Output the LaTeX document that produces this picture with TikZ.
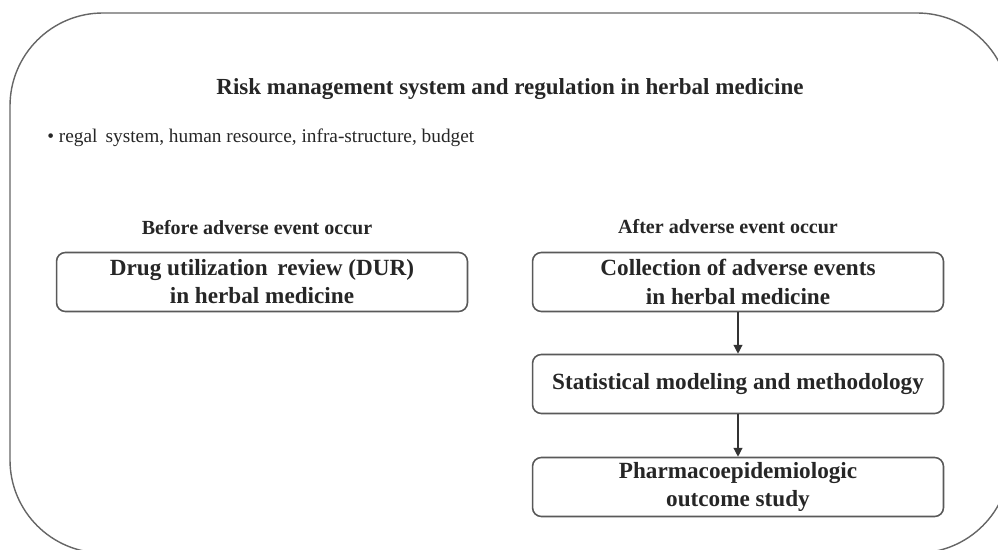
\documentclass[tikz,border=0pt]{standalone}
\usepackage{fontspec}
\setmainfont{Liberation Serif}
\usetikzlibrary{arrows.meta,positioning}

\begin{document}
\begin{tikzpicture}[x=0.02cm,y=-0.02cm]
\tikzset{
  flowbox/.style={draw=black!65,line width=0.9pt,rounded corners=5pt,minimum width=8.22cm,minimum height=1.18cm,inner sep=1pt,align=center,font=\fontsize{13.2}{16}\selectfont\bfseries,text=black!85},
  headtext/.style={font=\fontsize{11.4}{13}\selectfont\bfseries,text=black!85},
  flowarrow/.style={-{Triangle[length=5pt,width=5pt]},line width=0.7pt,draw=black!80}
}
\clip (0,0) rectangle (998,550);
\draw[black!60,line width=0.8pt,rounded corners=1.86cm] (10,13) rectangle (1010,553);
\node[font=\fontsize{13.1}{15}\selectfont\bfseries,text=black!85] (n_title) at (510,89) {Risk management system and regulation in herbal medicine};
\node[anchor=west,font=\fontsize{11}{13}\selectfont,text=black!85,inner sep=0pt] (n_items) at (47,138) {\textbullet{} regal\,\ system, human resource, infra-structure, budget};
\node[headtext] (n_before) at (257,228) {Before adverse event occur};
\node[headtext] (n_after) at (728,227) {After adverse event occur};
\node[flowbox] (n_dur) at (262,282) {Drug utilization\,\ review (DUR)\\in herbal medicine};
\node[flowbox] (n_coll) at (738,282) {Collection of adverse events\\in herbal medicine};
\node[flowbox] (n_stat) at (738,384) {Statistical modeling and methodology};
\node[flowbox] (n_pharm) at (738,487) {Pharmacoepidemiologic\\outcome study};
\draw[flowarrow] (n_coll) -- (n_stat);
\draw[flowarrow] (n_stat) -- (n_pharm);
\end{tikzpicture}
\end{document}
